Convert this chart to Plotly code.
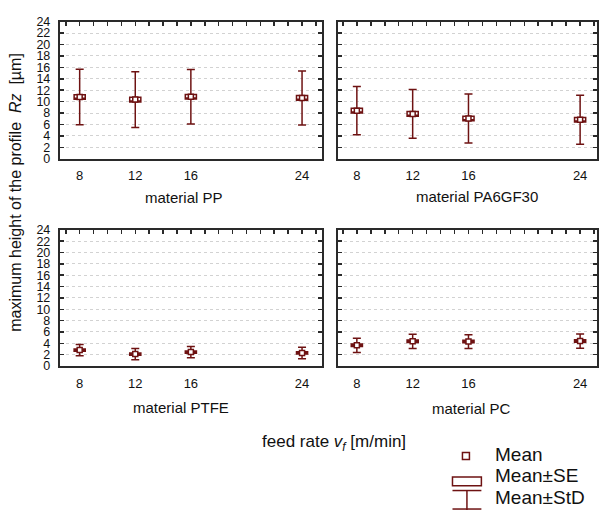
import plotly.graph_objects as go

# ---------------- data ----------------
feed_rate = [8, 12, 16, 24]
tick_labels = ["8", "12", "16", "24"]
materials = ["PP", "PA6GF30", "PTFE", "PC"]

pp_mean = [10.8, 10.35, 10.85, 10.65]
pp_sd = [4.86, 4.89, 4.78, 4.72]
pp_se = [0.40, 0.40, 0.40, 0.40]

pa_mean = [8.42, 7.85, 7.05, 6.83]
pa_sd = [4.21, 4.27, 4.27, 4.27]
pa_se = [0.43, 0.40, 0.40, 0.40]

ptfe_mean = [2.8, 2.1, 2.45, 2.3]
ptfe_sd = [1.0, 1.0, 1.0, 1.0]
ptfe_se = [0.2, 0.2, 0.2, 0.2]

pc_mean = [3.65, 4.35, 4.3, 4.4]
pc_sd = [1.25, 1.25, 1.2, 1.25]
pc_se = [0.22, 0.22, 0.22, 0.22]

series = {
    "PP": (pp_mean, pp_sd, pp_se),
    "PA6GF30": (pa_mean, pa_sd, pa_se),
    "PTFE": (ptfe_mean, ptfe_sd, ptfe_se),
    "PC": (pc_mean, pc_sd, pc_se),
}

# ---------------- layout helpers ----------------
W, H = 599, 517
def px(x):
    return min(max(x / W, 0.0), 1.0)
def py(y):
    return min(max(1 - y / H, 0.0), 1.0)

MAROON = "#6e1212"
FRAME = "#2a2a2a"
FONT = "Liberation Sans, Arial, sans-serif"

x_domains = [[px(60), px(323)], [px(339), px(599)]]
y_domains = [[py(156), py(15)], [py(369), py(229)]]
xrange_left = [6.57, 25.43]
xrange_right = [6.64, 25.21]

fig = go.Figure()
layout = {}

for i, mat in enumerate(materials):
    n = i + 1
    mean, sd, se = series[mat]
    xa = "x" if n == 1 else f"x{n}"
    ya = "y" if n == 1 else f"y{n}"
    q1 = [m - s for m, s in zip(mean, se)]
    q3 = [m + s for m, s in zip(mean, se)]
    lo = [m - s for m, s in zip(mean, sd)]
    hi = [m + s for m, s in zip(mean, sd)]
    fig.add_trace(go.Box(
        x=feed_rate, q1=q1, median=q1, q3=q3, lowerfence=lo, upperfence=hi,
        orientation="v", width=0.8, whiskerwidth=0.72,
        fillcolor="white", line=dict(color=MAROON, width=1.5),
        boxpoints=False, xaxis=xa, yaxis=ya, showlegend=False, hoverinfo="skip",
    ))
    fig.add_trace(go.Scatter(
        x=feed_rate, y=mean, mode="markers",
        marker=dict(symbol="square", size=5, color="white",
                    line=dict(color=MAROON, width=1.5)),
        xaxis=xa, yaxis=ya, showlegend=False, hoverinfo="skip",
    ))
    # empty trace to host top (minor tick) axis
    fig.add_trace(go.Scatter(x=[None], y=[None], xaxis=f"x{n+4}", yaxis=ya,
                             showlegend=False, hoverinfo="skip"))

    col = i % 2
    row = i // 2
    xr = xrange_left if col == 0 else xrange_right
    layout[f"xaxis{'' if n == 1 else n}"] = dict(
        domain=x_domains[col], range=xr, anchor=ya,
        tickmode="array", tickvals=feed_rate, ticktext=tick_labels,
        ticks="", showline=True, linecolor=FRAME, linewidth=2, mirror=True,
        showgrid=False, zeroline=False, ticklabelstandoff=4,
        tickfont=dict(family=FONT, size=13, color="#111"),
    )
    layout[f"xaxis{n+4}"] = dict(
        overlaying=xa, anchor=ya, side="top", range=xr,
        tick0=7, dtick=1, ticks="inside", ticklen=4, tickwidth=1.5,
        tickcolor=FRAME, showticklabels=False, showline=False,
        showgrid=False, zeroline=False,
    )
    layout[f"yaxis{'' if n == 1 else n}"] = dict(
        domain=y_domains[row], range=[0, 24], anchor=xa,
        tick0=0, dtick=2, ticks="inside", ticklen=4, tickwidth=1.5,
        tickcolor=FRAME, showline=True, linecolor=FRAME, linewidth=2,
        mirror="ticks", showgrid=True, gridcolor="#d2d2d2", griddash="dot",
        gridwidth=1, zeroline=False, showticklabels=(col == 0),
        ticklabelstandoff=5,
        tickfont=dict(family=FONT, size=12.5, color="#111"),
    )

annotations = []
label_pos = {"PP": (185, 196), "PA6GF30": (479, 195), "PTFE": (182, 412), "PC": (473, 413)}
for mat in materials:
    x0, y0 = label_pos[mat]
    annotations.append(dict(text=f"material {mat}", x=px(x0), y=py(y0), xref="paper",
                            yref="paper", showarrow=False, xanchor="center", yanchor="middle",
                            font=dict(family=FONT, size=15, color="#111")))

annotations.append(dict(text="maximum height of the profile  <i>Rz</i>  [µm]",
                        x=px(16), y=py(190), xref="paper", yref="paper", textangle=-90,
                        showarrow=False, xanchor="center", yanchor="middle",
                        font=dict(family=FONT, size=16, color="#111")))
annotations.append(dict(text="feed rate <i>v<sub>f</sub></i> [m/min]",
                        x=px(335), y=py(448), xref="paper", yref="paper",
                        showarrow=False, xanchor="center", yanchor="middle",
                        font=dict(family=FONT, size=17, color="#111")))

# legend
legend_items = ["Mean", "Mean±SE", "Mean±StD"]
legend_y = [460, 482, 504]
for txt, yy in zip(legend_items, legend_y):
    annotations.append(dict(text=txt, x=px(495), y=py(yy), xref="paper", yref="paper",
                            showarrow=False, xanchor="left", yanchor="middle",
                            font=dict(family=FONT, size=19, color="#111")))

shapes = [
    dict(type="rect", xref="paper", yref="paper", x0=px(464), x1=px(471),
         y0=py(465), y1=py(458), line=dict(color=MAROON, width=1.5), fillcolor="white"),
    dict(type="rect", xref="paper", yref="paper", x0=px(454), x1=px(483),
         y0=py(492), y1=py(483), line=dict(color=MAROON, width=1.5), fillcolor="white"),
    dict(type="line", xref="paper", yref="paper", x0=px(454), x1=px(483),
         y0=py(497), y1=py(497), line=dict(color=MAROON, width=1.5)),
    dict(type="line", xref="paper", yref="paper", x0=px(468.5), x1=px(468.5),
         y0=py(497), y1=py(517), line=dict(color=MAROON, width=1.5)),
    dict(type="line", xref="paper", yref="paper", x0=px(454), x1=px(483),
         y0=py(516), y1=py(516), line=dict(color=MAROON, width=1.5)),
]

fig.update_layout(
    width=W, height=H, margin=dict(l=0, r=0, t=0, b=0),
    paper_bgcolor="white", plot_bgcolor="white",
    annotations=annotations, shapes=shapes, showlegend=False,
    font=dict(family=FONT, color="#111"),
    **layout,
)

fig.write_html(
    "out.html",
    config={"displayModeBar": False, "staticPlot": True},
    post_script="document.body.style.margin='0';document.body.style.overflow='hidden';",
)
